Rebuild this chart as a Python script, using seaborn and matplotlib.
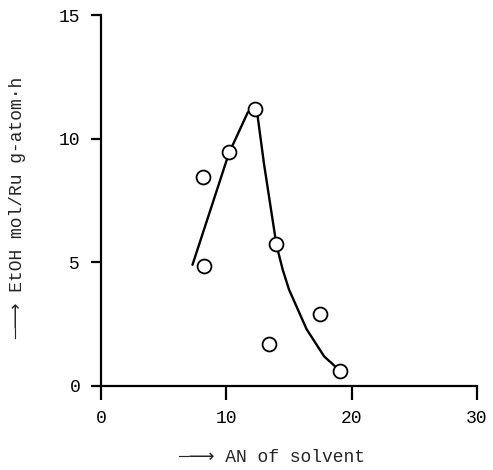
import matplotlib
matplotlib.use("Agg")
import matplotlib.pyplot as plt
import seaborn as sns
import pandas as pd

# observed points
pt_x = [8.1, 8.25, 10.2, 12.3, 14.0, 13.4, 17.5, 19.1]
pt_y = [8.45, 4.85, 9.45, 11.2, 5.75, 1.7, 2.9, 0.6]

# drawn trend curve
cur_x = [7.3, 10.2, 11.7, 12.2, 12.5, 13.0, 14.0, 14.5, 15.0, 16.4, 17.8, 19.1]
cur_y = [4.9, 9.4, 11.05, 11.3, 10.9, 9.0, 5.7, 4.7, 3.9, 2.3, 1.2, 0.6]

xticks = [0, 10, 20, 30]
yticks = [0, 5, 10, 15]

sns.set_theme(style="ticks")
mono = ["Liberation Mono", "DejaVu Sans"]
plt.rcParams["font.family"] = mono

fig = plt.figure(figsize=(4.93, 4.70), dpi=100)
ax = fig.add_axes([101 / 493, 1 - 386 / 470, (477 - 101) / 493, (386 - 15) / 470])

curve = pd.DataFrame({"x": cur_x, "y": cur_y})
pts = pd.DataFrame({"x": pt_x, "y": pt_y})
sns.lineplot(data=curve, x="x", y="y", sort=False, color="black", linewidth=1.7, ax=ax)
sns.scatterplot(data=pts, x="x", y="y", s=100, facecolor="white", edgecolor="black",
                linewidth=1.3, ax=ax, zorder=3)

ax.set_xlim(0, 30)
ax.set_ylim(0, 15)
ax.set_xticks(xticks)
ax.set_yticks(yticks)
ax.set_xticklabels([str(t) for t in xticks])
ax.set_yticklabels([str(t) for t in yticks])
for s in ["top", "right"]:
    ax.spines[s].set_visible(False)
for s in ["left", "bottom"]:
    ax.spines[s].set_linewidth(1.6)
    ax.spines[s].set_color("black")
ax.tick_params(axis="x", direction="out", length=10, width=1.6, pad=7, labelsize=13, colors="black")
ax.tick_params(axis="y", direction="out", length=7, width=1.6, pad=8, labelsize=13, colors="black")

ax.set_xlabel("\u2500\u27f6 AN of solvent", fontsize=13, family=mono)
ax.set_ylabel("\u2500\u27f6 EtOH mol/Ru g-atom\u00b7h", fontsize=13, family=mono)
ax.xaxis.set_label_coords(0.455, -0.17)
ax.yaxis.set_label_coords(-0.198, 0.48)

fig.savefig("out.png", dpi=100, facecolor="white")
